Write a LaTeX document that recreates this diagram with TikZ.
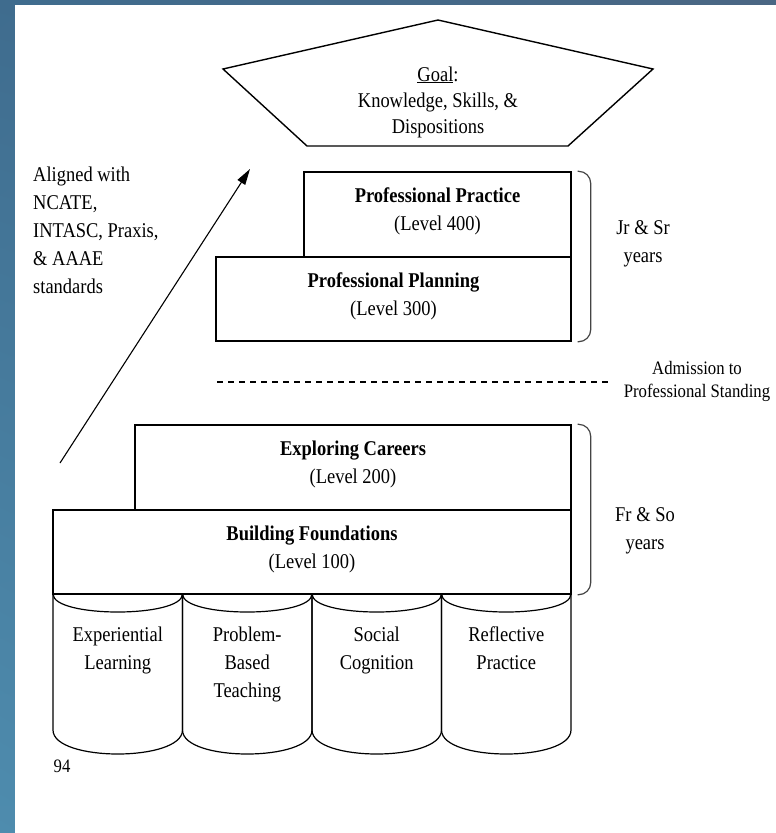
\documentclass[tikz,border=0pt]{standalone}
\usepackage{fontspec}
\setmainfont[FakeStretch=0.88]{Liberation Serif}
\usepackage{tikz}
\usetikzlibrary{arrows.meta,positioning,shadings}
\definecolor{SlideTopLeft}{HTML}{3F6C8E}
\definecolor{SlideTopRight}{HTML}{4A6683}
\definecolor{SlideLowLeft}{HTML}{4E8CAE}
\definecolor{SlideLowRight}{HTML}{4E7A9A}
\definecolor{BraceGray}{HTML}{444444}

\begin{document}
\begin{tikzpicture}[x=1pt,y=-1pt,
  level/.style={draw,line width=1.4pt,fill=white,inner sep=0pt,align=center,
                text depth=10pt,font=\fontsize{21}{28}\selectfont},
  plain/.style={inner sep=0pt,align=center,font=\fontsize{21}{28}\selectfont},
  pillar/.style={line width=1.2pt},
  yearbrace/.style={line width=1.2pt,draw=BraceGray,rounded corners=12pt},
  rise/.style={-{Triangle[length=16pt,width=9pt]},line width=1.1pt}
]
  \useasboundingbox (0,0) rectangle (776,833);
  \shade[upper left=SlideTopLeft,upper right=SlideTopRight,
         lower left=SlideLowLeft,lower right=SlideLowRight] (0,0) rectangle (776,833);
  \fill[white] (15,5) rectangle (776,833);

  \draw[line width=1.4pt] (438,20) -- (653,69) -- (568,146) -- (307,146) -- (223,69) -- cycle;
  \node[plain,font=\fontsize{21}{26}\selectfont] (goal) at (438,102)
    {\underline{Goal}:\\Knowledge, Skills, \&\\Dispositions};

  \node[level,minimum width=355pt,minimum height=84pt] (planning) at (393.5,299)
    {\textbf{Professional Planning}\\(Level 300)};
  \node[level,minimum width=267pt,minimum height=85pt] (practice) at (437.5,214.5)
    {\textbf{Professional Practice}\\(Level 400)};
  \node[level,minimum width=518pt,minimum height=84pt] (foundations) at (312,552)
    {\textbf{Building Foundations}\\(Level 100)};
  \node[level,minimum width=436pt,minimum height=85pt] (careers) at (353,467.5)
    {\textbf{Exploring Careers}\\(Level 200)};

  \foreach \lbl [count=\i from 0] in {{Experiential\\Learning},{Problem-\\Based\\Teaching},
                                      {Social\\Cognition},{Reflective\\Practice}}{
    \pgfmathsetmacro\xa{53+129.5*\i}
    \pgfmathsetmacro\xb{\xa+129.5}
    \draw[pillar] (\xa,594) -- (\xa,730) .. controls (\xa,762) and (\xb,762) .. (\xb,730) -- (\xb,594);
    \draw[pillar] (\xa,594) .. controls (\xa,618) and (\xb,618) .. (\xb,594);
    \node[plain,anchor=north] (pillar\i) at (\xa+64.75,627) {\lbl};
  }

  \draw[yearbrace] ([xshift=6pt]practice.north east) -| ([xshift=19pt]planning.south east)
    -- ([xshift=6pt]planning.south east);
  \draw[yearbrace] ([xshift=6pt]careers.north east) -| ([xshift=19pt]foundations.south east)
    -- ([xshift=6pt]foundations.south east);
  \node[plain] (upperyears) at (643,244) {Jr \& Sr\\years};
  \node[plain] (loweryears) at (645,531) {Fr \& So\\years};

  \coordinate (gatewest) at (217,382);
  \coordinate (gateeast) at (612,382);
  \draw[line width=1.1pt,dash pattern=on 6pt off 5pt] (gatewest) -- (gateeast);
  \node[plain,font=\fontsize{19}{23}\selectfont] (admission) at (697,381.5)
    {Admission to\\Professional Standing};

  \node[plain,align=left,anchor=north west] (aligned) at (33,167)
    {Aligned with\\NCATE,\\INTASC, Praxis,\\\& AAAE\\standards};
  \coordinate (risetail) at (60,463);
  \coordinate (risetip) at (250,169);
  \draw[rise] (risetail) -- (risetip);

  \node[plain,font=\fontsize{19}{23}\selectfont] (pagenum) at (62,766) {94};
\end{tikzpicture}
\end{document}
